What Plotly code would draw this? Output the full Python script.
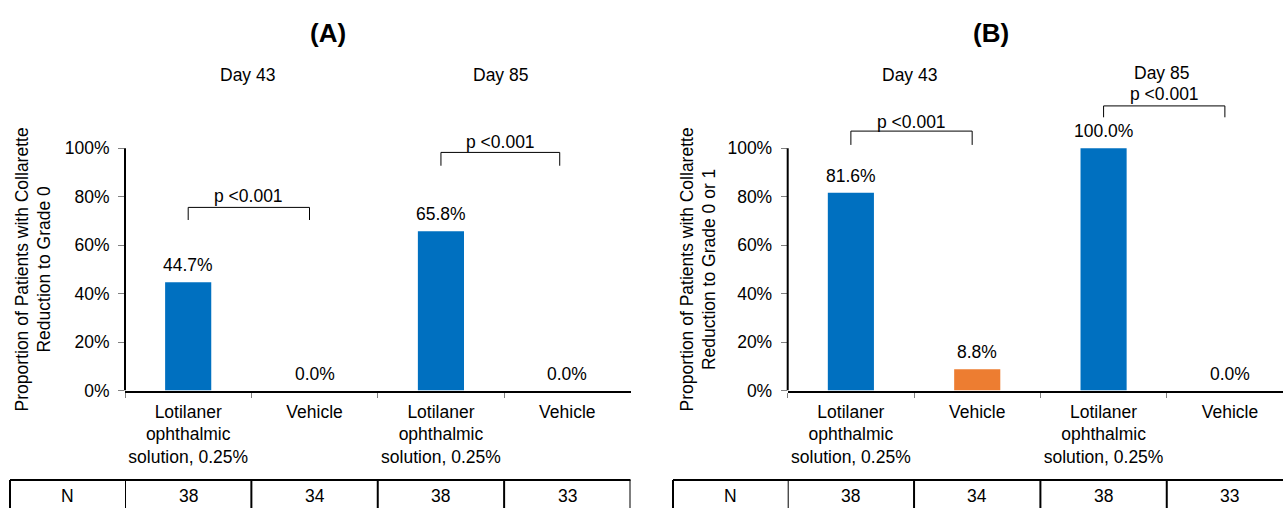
import plotly.graph_objects as go

# ---- data -------------------------------------------------------------
category_keys = ["lot_d43", "veh_d43", "lot_d85", "veh_d85"]
category_labels = [
    "Lotilaner<br>ophthalmic<br>solution, 0.25%",
    "Vehicle",
    "Lotilaner<br>ophthalmic<br>solution, 0.25%",
    "Vehicle",
]
visit_labels = ["Day 43", "Day 85"]
n_per_group = ["38", "34", "38", "33"]

grade0_pct = [44.7, 0.0, 65.8, 0.0]          # panel A
grade0_or_1_pct = [81.6, 8.8, 100.0, 0.0]    # panel B
p_values = ["p <0.001", "p <0.001"]

y_tick_vals = [0, 20, 40, 60, 80, 100]
y_tick_text = ["0%", "20%", "40%", "60%", "80%", "100%"]

bar_colors = ["#0070C0", "#ED7D31", "#0070C0", "#ED7D31"]

# ---- canvas -----------------------------------------------------------
W, H = 1283, 508
FONT = "Arial, Liberation Sans, sans-serif"
FS = 17.5


def px(x):
    return x / W


def py(y):
    return 1 - y / H


Y_TOP = 130  # headroom above 100% for the significance brackets
y_domain = [py(390.5), py(390.5 - Y_TOP * 2.422)]

panels = [
    dict(name="(A)", vals=grade0_pct, xa="x", ya="y", dom=[125, 630.5], rng=[-0.5, 3.5],
         title_x=328, ytitle="Proportion of Patients with Collarette<br>Reduction to Grade 0",
         ytitle_x=33, table_left=10, n_x=67.5, day_x=[0.47, 2.47], day_y=[75, 75],
         brackets=[(0, 0.96, 75.6, 70.4, 80.3), (2, 2.94, 98.3, 92.8, 102.7)]),
    dict(name="(B)", vals=grade0_or_1_pct, xa="x2", ya="y2", dom=[787.7, 1283], rng=[-0.5, 3.42],
         title_x=991, ytitle="Proportion of Patients with Collarette<br>Reduction to Grade 0 or 1",
         ytitle_x=698, table_left=673, n_x=730, day_x=[0.46, 2.46], day_y=[75, 73.3],
         brackets=[(0, 0.96, 107.1, 101.4, 111.0), (2, 2.96, 117.5, 112.8, 122.3)]),
]

fig = go.Figure()
shapes, annotations = [], []
axis_lines = dict(color="black", width=2)
txt = dict(family=FONT, size=FS, color="black")


def note(**kw):
    base = dict(showarrow=False, xanchor="center", yanchor="middle", font=txt)
    base.update(kw)
    annotations.append(base)


for i, p in enumerate(panels):
    fig.add_trace(go.Bar(
        x=category_keys, y=p["vals"], marker=dict(color=bar_colors, line=dict(width=0)),
        width=0.365, xaxis=p["xa"], yaxis=p["ya"], showlegend=False, hoverinfo="x+y",
    ))
    suffix = "" if i == 0 else "2"
    fig.update_layout(**{
        "xaxis" + suffix: dict(
            domain=[px(p["dom"][0]), px(p["dom"][1])], range=p["rng"], type="category",
            categoryorder="array", categoryarray=category_keys,
            tickmode="array", tickvals=category_keys, ticktext=category_labels, tickangle=0,
            tickson="boundaries", ticks="outside", ticklen=5, tickwidth=1, tickcolor="#808080",
            ticklabelstandoff=4,
            showline=True, linecolor="black", linewidth=2, showgrid=False, zeroline=False,
            tickfont=txt, anchor="y" + suffix, fixedrange=True, automargin=False,
        ),
        "yaxis" + suffix: dict(
            domain=y_domain, range=[0, Y_TOP], tickmode="array",
            tickvals=y_tick_vals, ticktext=y_tick_text, ticks="outside",
            ticklen=6, tickwidth=1, tickcolor="#808080", ticklabelstandoff=5,
            showline=False, showgrid=False, zeroline=False,
            tickfont=txt, anchor="x" + suffix, fixedrange=True, automargin=False,
        ),
    })

    # y-axis line from 0% to 100%
    shapes.append(dict(type="line", xref="paper", yref=p["ya"], x0=px(p["dom"][0]),
                       x1=px(p["dom"][0]), y0=0, y1=100, line=axis_lines))

    # value labels
    for k, v in zip(category_keys, p["vals"]):
        note(xref=p["xa"], yref=p["ya"], x=k, y=v, text=f"{v:.1f}%", yshift=17)

    # significance brackets
    for (xl, xr, ytop, ybot, ytxt), ptxt in zip(p["brackets"], p_values):
        shapes.append(dict(type="path", xref=p["xa"], yref=p["ya"],
                           path=f"M {xl},{ybot} L {xl},{ytop} L {xr},{ytop} L {xr},{ybot}",
                           line=dict(color="black", width=1)))
        note(xref=p["xa"], yref=p["ya"], x=(xl + xr) / 2, y=ytxt, text=ptxt)

    # visit headers
    for dx, dy, lab in zip(p["day_x"], p["day_y"], visit_labels):
        note(xref=p["xa"], yref="paper", x=dx, y=py(dy), text=lab)

    # panel title
    note(xref="paper", yref="paper", x=px(p["title_x"]), y=py(33),
         text=f"<b>{p['name']}</b>", font=dict(family=FONT, size=26, color="black"))

    # y-axis title
    note(xref="paper", yref="paper", x=px(p["ytitle_x"]), y=py(269.4),
         text=p["ytitle"], textangle=-90)

    # N row table
    table = dict(color="black", width=2)
    shapes.append(dict(type="line", xref="paper", yref="paper", x0=px(p["table_left"]),
                       x1=px(p["dom"][1]), y0=py(480), y1=py(480), line=table))
    shapes.append(dict(type="line", xref="paper", yref="paper", x0=px(p["table_left"]),
                       x1=px(p["table_left"]), y0=py(480), y1=py(512), line=table))
    for b in range(5):
        shapes.append(dict(type="line", xref=p["xa"], yref="paper", x0=b - 0.5, x1=b - 0.5,
                           y0=py(480), y1=py(512), line=table))
    note(xref="paper", yref="paper", x=px(p["n_x"]), y=py(496), text="N")
    for k, n in zip(category_keys, n_per_group):
        note(xref=p["xa"], yref="paper", x=k, y=py(496), text=n)

fig.update_layout(
    width=W, height=H, margin=dict(l=0, r=0, t=0, b=0, autoexpand=False),
    paper_bgcolor="white", plot_bgcolor="white",
    shapes=shapes, annotations=annotations, bargap=0.6,
    font=txt,
)

fig.write_html("out.html")
